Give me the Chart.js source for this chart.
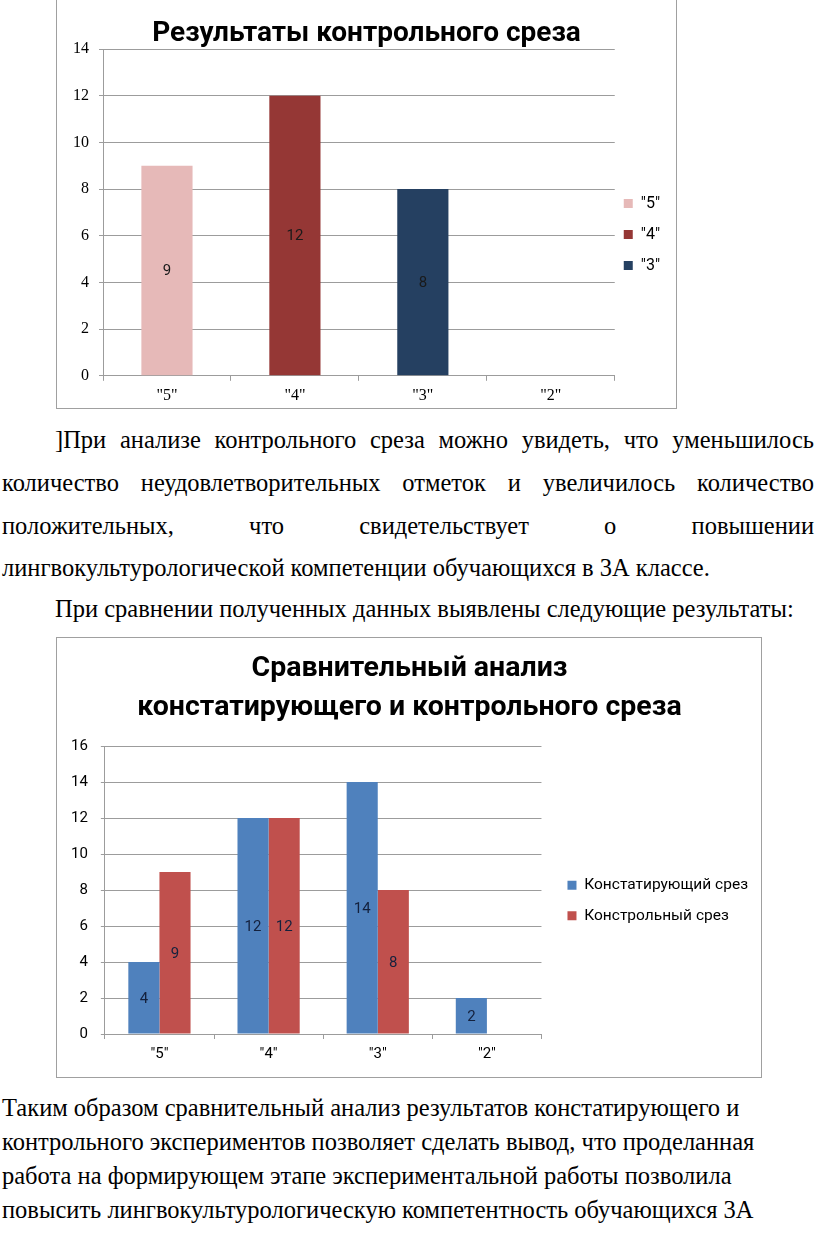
<!DOCTYPE html>
<html lang="ru">
<head>
<meta charset="utf-8">
<title>Результаты контрольного среза</title>
<script src="https://cdn.jsdelivr.net/npm/chart.js@4.4.1/dist/chart.umd.min.js"></script>
<style>
    body { margin: 0; width: 816px; height: 1239px; position: relative; overflow: hidden; background: #fff; color: #000; font-family: "Liberation Serif", "Times New Roman", serif; }
    .frame { position: absolute; border: 1px solid #a0a0a0; box-sizing: border-box; background: #fff; }
    .frame canvas { position: absolute; left: 0; top: 0; }
    .line { position: absolute; font-size: 24.5px; line-height: 30px; white-space: nowrap; }
    .just { text-align: justify; text-align-last: justify; white-space: normal; }
</style>
</head>
<body>

<div class="frame" style="left:56px; top:-2px; width:621px; height:411px;">
    <canvas id="controlChart" width="619" height="409"></canvas>
</div>

<div class="line just" style="left:55px; width:759px; top:425px;">]При анализе контрольного среза можно увидеть, что уменьшилось</div>
<div class="line just" style="left:2px; width:812px; top:468px;">количество неудовлетворительных отметок и увеличилось количество</div>
<div class="line just" style="left:2px; width:812px; top:511px;">положительных, что свидетельствует о повышении</div>
<div class="line" style="left:2px; top:553px;">лингвокультурологической компетенции обучающихся в 3А классе.</div>
<div class="line" style="left:55px; top:594px;">При сравнении полученных данных выявлены следующие результаты:</div>

<div class="frame" style="left:56px; top:637px; width:706px; height:441px;">
    <canvas id="compareChart" width="704" height="439"></canvas>
</div>

<div class="line" style="left:2px; top:1093px;">Таким образом сравнительный анализ результатов констатирующего и</div>
<div class="line" style="left:2px; top:1127px;">контрольного экспериментов позволяет сделать вывод, что проделанная</div>
<div class="line" style="left:2px; top:1161px;">работа на формирующем этапе экспериментальной работы позволила</div>
<div class="line" style="left:2px; top:1195px;">повысить лингвокультурологическую компетентность обучающихся 3А</div>

<script>
// grades on the x axis
const grades = ['"5"', '"4"', '"3"', '"2"'];

// first chart: control test, one series per grade
const controlSeries = ['"5"', '"4"', '"3"'];
const control5 = [9, null, null, null];
const control4 = [null, 12, null, null];
const control3 = [null, null, 8, null];
const controlTicks = { min: 0, max: 14, step: 2 };

// second chart: ascertaining vs control test
const ascertaining = [4, 12, 14, 2];
const controlTest = [9, 12, 8, null];
const compareSeries = ['Констатирующий срез', 'Констрольный срез'];
const compareTicks = { min: 0, max: 16, step: 2 };

const sans = 'Roboto, "Noto Sans", sans-serif';
const serif = '"Liberation Serif", "Times New Roman", serif';
const gridGrey = '#9c9c9c';

// writes each bar's value in the middle of the bar
const valueLabels = {
    id: 'valueLabels',
    afterDatasetsDraw(chart, args, opts) {
        const ctx = chart.ctx;
        ctx.save();
        ctx.font = opts.font;
        ctx.fillStyle = opts.color;
        ctx.textAlign = 'center';
        ctx.textBaseline = 'middle';
        chart.data.datasets.forEach(function (ds, i) {
            const meta = chart.getDatasetMeta(i);
            meta.data.forEach(function (bar, j) {
                const v = ds.data[j];
                if (v === null || v === undefined) return;
                const p = bar.getProps(['x', 'y', 'base'], true);
                ctx.fillText(String(v), p.x, (p.y + p.base) / 2 + 1);
            });
        });
        ctx.restore();
    }
};

// nudges the legend and title blocks after layout
const boxShift = {
    id: 'boxShift',
    afterLayout(chart, args, opts) {
        const move = function (box, dx, dy) {
            if (!box) return;
            box.left += dx || 0;
            box.right += dx || 0;
            box.top += dy || 0;
            box.bottom += dy || 0;
        };
        move(chart.legend, opts.legendX, opts.legendY);
        move(chart.titleBlock, opts.titleX, 0);
    }
};

document.addEventListener('DOMContentLoaded', function () {

    // Control test chart
    const controlCtx = document.getElementById('controlChart');
    if (controlCtx) {
        new Chart(controlCtx, {
            type: 'bar',
            data: {
                labels: grades,
                datasets: [
                    { label: controlSeries[0], data: control5, backgroundColor: '#e6b9b8' },
                    { label: controlSeries[1], data: control4, backgroundColor: '#953735' },
                    { label: controlSeries[2], data: control3, backgroundColor: '#254061' },
                ]
            },
            plugins: [valueLabels, boxShift],
            options: {
                responsive: false,
                animation: false,
                skipNull: true,
                categoryPercentage: 0.4,
                barPercentage: 1,
                layout: { padding: { left: 6, right: 0, top: 0, bottom: -2 } },
                plugins: {
                    tooltip: { enabled: false },
                    valueLabels: { font: '15px ' + sans, color: '#1a1a1a' },
                    boxShift: { legendX: -6, legendY: 30, titleX: -3 },
                    title: {
                        display: true,
                        text: 'Результаты контрольного среза',
                        color: '#000',
                        font: { family: sans, size: 28, weight: 'bold', lineHeight: '30px' },
                        padding: { top: 20, bottom: 0 }
                    },
                    legend: {
                        position: 'right',
                        maxWidth: 120,
                        labels: {
                            boxWidth: 9,
                            boxHeight: 9,
                            padding: 15,
                            color: '#000',
                            font: { family: sans, size: 16 }
                        }
                    }
                },
                scales: {
                    x: {
                        grid: { drawOnChartArea: false, color: gridGrey, tickLength: 5 },
                        border: { color: gridGrey },
                        ticks: { color: '#000', padding: 5, font: { family: serif, size: 16 } }
                    },
                    y: {
                        min: controlTicks.min,
                        max: controlTicks.max,
                        grid: { color: gridGrey, tickLength: 4 },
                        border: { color: gridGrey },
                        ticks: { stepSize: controlTicks.step, color: '#000', padding: 10, font: { family: serif, size: 16 } }
                    }
                }
            }
        });
    }

    // Comparison chart
    const compareCtx = document.getElementById('compareChart');
    if (compareCtx) {
        new Chart(compareCtx, {
            type: 'bar',
            data: {
                labels: grades,
                datasets: [
                    { label: compareSeries[0], data: ascertaining, backgroundColor: '#4f81bd' },
                    { label: compareSeries[1], data: controlTest, backgroundColor: '#c0504d' },
                ]
            },
            plugins: [valueLabels, boxShift],
            options: {
                responsive: false,
                animation: false,
                categoryPercentage: 0.57,
                barPercentage: 1,
                layout: { padding: { left: 1, right: 14, top: 0, bottom: 8 } },
                plugins: {
                    tooltip: { enabled: false },
                    valueLabels: { font: '15px ' + sans, color: '#14213d' },
                    boxShift: { legendX: 11, legendY: 47, titleX: 7 },
                    title: {
                        display: true,
                        text: ['Сравнительный анализ', 'констатирующего и контрольного среза'],
                        color: '#000',
                        font: { family: sans, size: 28.5, weight: 'bold', lineHeight: '39px' },
                        padding: { top: 11, bottom: 19 }
                    },
                    legend: {
                        position: 'right',
                        maxWidth: 260,
                        labels: {
                            boxWidth: 9,
                            boxHeight: 9,
                            padding: 15,
                            color: '#000',
                            font: { family: sans, size: 15.5 }
                        }
                    }
                },
                scales: {
                    x: {
                        grid: { drawOnChartArea: false, color: gridGrey, tickLength: 5 },
                        border: { color: gridGrey },
                        ticks: { color: '#000', padding: 6, font: { family: sans, size: 15 } }
                    },
                    y: {
                        min: compareTicks.min,
                        max: compareTicks.max,
                        grid: { color: gridGrey, tickLength: 4 },
                        border: { color: gridGrey },
                        ticks: { stepSize: compareTicks.step, color: '#000', padding: 13, font: { family: sans, size: 15 } }
                    }
                }
            }
        });
    }

});
</script>
</body>
</html>
